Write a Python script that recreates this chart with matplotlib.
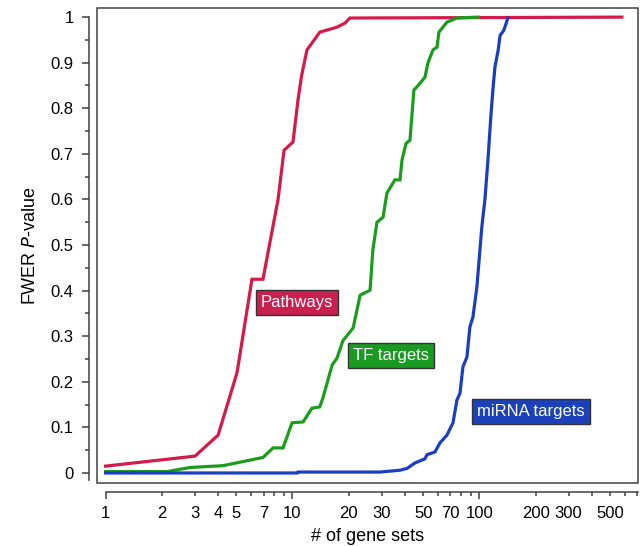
import numpy as np
import matplotlib.pyplot as plt
from matplotlib.ticker import FixedLocator, FuncFormatter
from matplotlib.patches import Rectangle

plt.rcParams['font.family'] = ['Liberation Sans', 'DejaVu Sans']

# Pathways (red)
path_x = [1.0, 3.01, 4.0, 5.05, 6.07, 6.95, 8.37, 9.01, 10.06, 10.7, 11.2, 11.95,
          14.0, 17.3, 19.1, 20.3, 578]
path_y = [0.015, 0.037, 0.083, 0.22, 0.425, 0.425, 0.60, 0.708, 0.726, 0.818, 0.873, 0.928,
          0.967, 0.978, 0.987, 0.998, 1.0]

# TF targets (green)
tf_x = [1.0, 2.13, 2.83, 4.25, 6.95, 7.87, 8.9, 9.94, 11.4, 12.7, 14.0, 14.6, 16.3, 17.3,
        18.6, 21.1, 23.0, 26.0, 26.9, 28.3, 30.5, 32.0, 35.3, 37.6, 38.5, 40.5, 42.5, 44.6,
        46.3, 51.1, 53.0, 56.4, 59.3, 60.7, 67.0, 75.8, 98.2]
tf_y = [0.003, 0.003, 0.012, 0.016, 0.034, 0.055, 0.055, 0.11, 0.112, 0.142, 0.145, 0.167,
        0.237, 0.252, 0.29, 0.318, 0.39, 0.401, 0.489, 0.55, 0.561, 0.614, 0.643, 0.643,
        0.686, 0.723, 0.73, 0.84, 0.847, 0.868, 0.899, 0.928, 0.934, 0.967, 0.989, 0.998, 1.0]

# miRNA targets (blue)
mir_x = [1.0, 10.6, 10.7, 29.4, 37.6, 41.0, 45.2, 51.1, 52.4, 57.8, 61.5, 67.0, 72.2, 75.8,
         78.7, 81.6, 85.7, 88.9, 92.3, 96.9, 100.6, 103, 107, 111, 115, 118, 121, 126, 129,
         135, 142]
mir_y = [0.0, 0.0, 0.002, 0.002, 0.006, 0.01, 0.022, 0.031, 0.04, 0.046, 0.066, 0.083, 0.11,
         0.16, 0.175, 0.233, 0.254, 0.32, 0.342, 0.408, 0.489, 0.54, 0.60, 0.686, 0.78, 0.84,
         0.89, 0.928, 0.96, 0.971, 0.998]

x_major = [1, 10, 100]
x_minor = [2, 3, 4, 5, 6, 7, 8, 9, 20, 30, 40, 50, 60, 70, 80, 90,
           200, 300, 400, 500, 600, 700]
x_labeled = [1, 2, 3, 4, 5, 7, 10, 20, 30, 50, 70, 100, 200, 300, 500]

fig = plt.figure(figsize=(6.41, 5.46), dpi=100)
ax = fig.add_axes([97/641, 1 - 483/546, (638 - 97)/641, (483 - 8)/546])

red = '#d41a4b'
green = '#1c9c1c'
blue = '#1a3ec0'

ax.plot(path_x, path_y, color=red, lw=2.3, solid_joinstyle='miter')
ax.plot(tf_x, tf_y, color=green, lw=2.3, solid_joinstyle='miter')
ax.plot(mir_x, mir_y, color=blue, lw=2.3, solid_joinstyle='miter')

ax.set_xscale('log')
ax.set_xlim(0.9, 705)
ax.set_ylim(-0.022, 1.02)

# frame around plot area
ax.add_patch(Rectangle((0, 0), 1, 1, transform=ax.transAxes, fill=False,
                       edgecolor='#404040', lw=1.1, clip_on=False, zorder=5))
ax.spines['top'].set_visible(False)
ax.spines['right'].set_visible(False)
ax.spines['left'].set_position(('outward', 5.8))
ax.spines['bottom'].set_position(('outward', 6.5))
ax.spines['left'].set_bounds(-0.015, 1.0)
ax.spines['bottom'].set_bounds(1, 705)
for s in ('left', 'bottom'):
    ax.spines[s].set_color('#404040')
    ax.spines[s].set_linewidth(1.1)

ax.xaxis.set_major_locator(FixedLocator(x_major))
ax.xaxis.set_minor_locator(FixedLocator(x_minor))
fmt = FuncFormatter(lambda v, p: ('%g' % v) if round(v) in x_labeled else '')
ax.xaxis.set_major_formatter(fmt)
ax.xaxis.set_minor_formatter(fmt)

ax.set_yticks(np.arange(0, 1.01, 0.1))
ax.set_yticks(np.arange(0.05, 1.0, 0.1), minor=True)
ax.yaxis.set_major_formatter(FuncFormatter(lambda v, p: '%g' % round(v, 1)))

ax.tick_params(axis='both', which='both', colors='#404040', labelcolor='black',
               labelsize=12, width=1.1)
ax.tick_params(axis='x', which='major', length=5, pad=5)
ax.tick_params(axis='x', which='minor', length=3, pad=7)
ax.tick_params(axis='y', which='major', length=5, pad=6)
ax.tick_params(axis='y', which='minor', length=3)

ax.set_xlabel('# of gene sets', fontsize=13, labelpad=5)
ax.set_ylabel('FWER $\\mathit{P}$-value', fontsize=13, labelpad=8)

box_kw = dict(ha='center', va='center', color='white', fontsize=12, zorder=6)
ax.text(10.6, 0.373, 'Pathways', bbox=dict(boxstyle='square,pad=0.3',
        facecolor='#c8214f', edgecolor='#333333', lw=1), **box_kw)
ax.text(33.6, 0.257, 'TF targets', bbox=dict(boxstyle='square,pad=0.3',
        facecolor='#1a9a22', edgecolor='#333333', lw=1), **box_kw)
ax.text(188, 0.134, 'miRNA targets', bbox=dict(boxstyle='square,pad=0.3',
        facecolor='#1d41b8', edgecolor='#333333', lw=1), **box_kw)

fig.savefig('out.png', dpi=100)
